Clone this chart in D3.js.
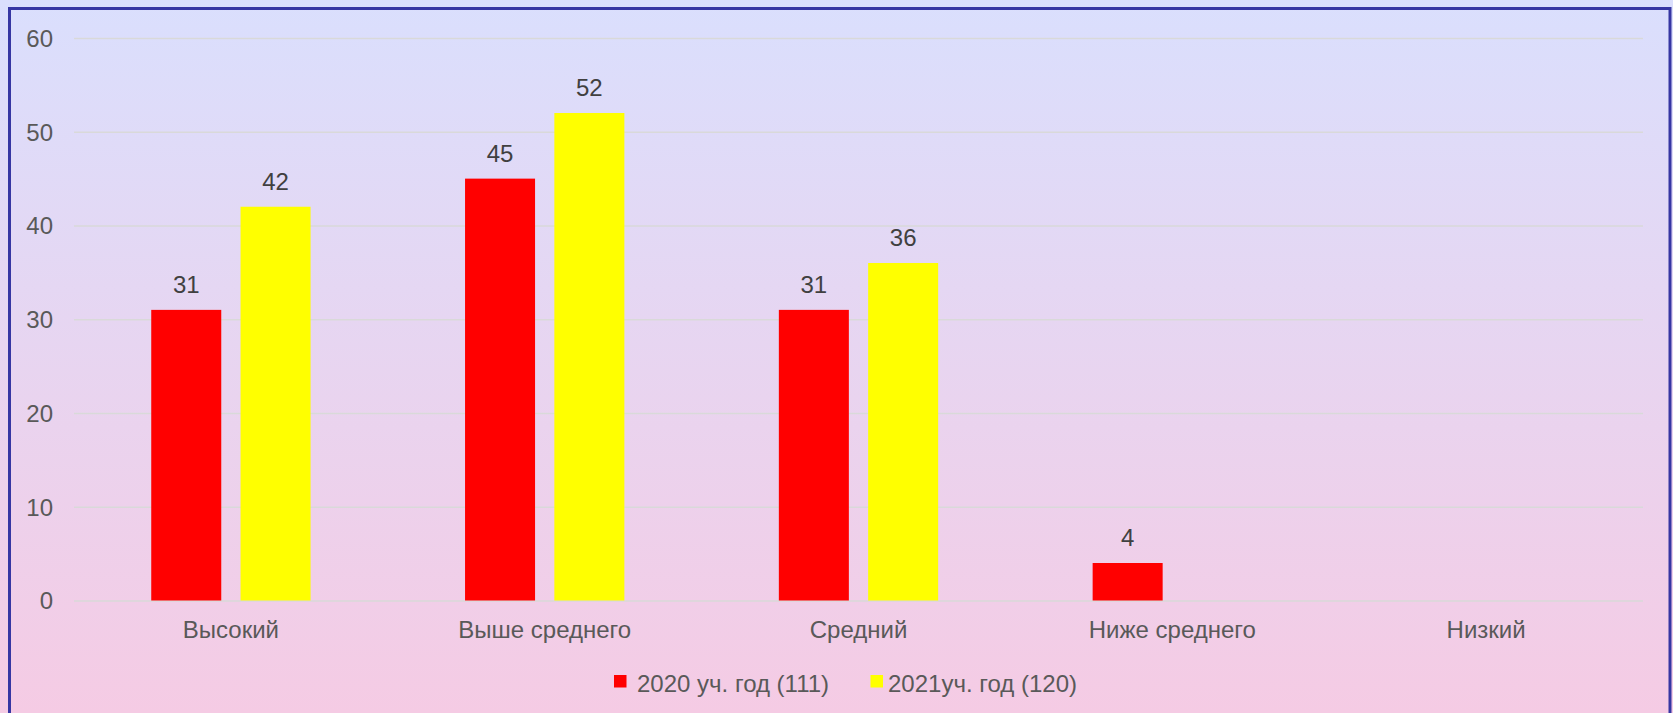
<!DOCTYPE html>
<html>
<head>
<meta charset="utf-8">
<script src="https://cdn.jsdelivr.net/npm/d3@7"></script>
<style>
html, body { margin: 0; padding: 0; overflow: hidden; }
body { width: 1673px; height: 713px; }
svg { display: block; }
</style>
</head>
<body>
<svg id="chart" width="1673" height="713"></svg>
<script>
const categories = ["Высокий", "Выше среднего", "Средний", "Ниже среднего", "Низкий"];
const seriesNames = ["2020 уч. год (111)", "2021уч. год (120)"];
const values2020 = [31, 45, 31, 4, null];
const values2021 = [42, 52, 36, null, null];
const yTicks = [0, 10, 20, 30, 40, 50, 60];
const seriesColors = ["#FF0000", "#FFFF00"];

const W = 1673, H = 713;
const svg = d3.select("#chart");
const font = "'Liberation Sans', Arial, sans-serif";

// background gradient
const defs = svg.append("defs");
const grad = defs.append("linearGradient").attr("id", "bg").attr("x1", 0).attr("y1", 0).attr("x2", 0).attr("y2", 1);
grad.append("stop").attr("offset", "0%").attr("stop-color", "#dadffd");
grad.append("stop").attr("offset", "100%").attr("stop-color", "#f5cbe4");
svg.append("rect").attr("x", 0).attr("y", 0).attr("width", W).attr("height", H).attr("fill", "url(#bg)");

// frame
svg.append("rect").attr("x", 9.5).attr("y", 8.5).attr("width", 1660.5).attr("height", 720)
  .attr("fill", "none").attr("stroke", "#3636a3").attr("stroke-width", 3);

const x0 = d3.scaleBand().domain(categories).range([74, 1643]).padding(0);
const groupFrac = 0.5077;
const x1 = d3.scaleBand().domain(seriesNames).range([0, x0.bandwidth() * groupFrac]).paddingInner(0.216).paddingOuter(0);
const groupOffset = (x0.bandwidth() - x0.bandwidth() * groupFrac) / 2;
const y = d3.scaleLinear().domain([0, 60]).range([600.5, 38]);

// gridlines
const gridAxis = d3.axisLeft(y).tickValues(yTicks).tickSize(-(1643 - 74)).tickFormat("");
const g = svg.append("g").attr("transform", "translate(74,0)").call(gridAxis);
g.select(".domain").remove();
g.selectAll(".tick line").attr("stroke", "#d9d9d9").attr("stroke-width", 1.5);

// y tick labels
const yAxis = d3.axisLeft(y).tickValues(yTicks).tickSize(0).tickPadding(0);
const ya = svg.append("g").attr("transform", "translate(53,0)").call(yAxis);
ya.select(".domain").remove();
ya.selectAll("text").attr("font-family", font).attr("font-size", 24).attr("fill", "#595959").attr("dy", "0.35em");

// bars
const series = [values2020, values2021];
series.forEach((vals, si) => {
  const data = categories.map((c, i) => ({ c, v: vals[i] })).filter(d => d.v !== null);
  svg.append("g").selectAll("rect").data(data).join("rect")
    .attr("x", d => x0(d.c) + groupOffset + x1(seriesNames[si]))
    .attr("y", d => y(d.v))
    .attr("width", x1.bandwidth())
    .attr("height", d => y(0) - y(d.v))
    .attr("fill", seriesColors[si]);
  svg.append("g").selectAll("text").data(data).join("text")
    .attr("x", d => x0(d.c) + groupOffset + x1(seriesNames[si]) + x1.bandwidth() / 2)
    .attr("y", d => y(d.v) - 17)
    .attr("text-anchor", "middle")
    .attr("font-family", font).attr("font-size", 24).attr("fill", "#404040")
    .text(d => d.v);
});

// x axis labels
const xAxis = d3.axisBottom(x0).tickSize(0).tickPadding(0);
const xa = svg.append("g").attr("transform", "translate(0,621)").call(xAxis);
xa.select(".domain").remove();
xa.selectAll("text").attr("font-family", font).attr("font-size", 24).attr("fill", "#595959").attr("dy", "0.71em");

// legend
const legendX = [614, 870.5];
const legendTextX = [637, 888];
const legend = svg.append("g");
seriesNames.forEach((name, i) => {
  legend.append("rect").attr("x", legendX[i]).attr("y", 675).attr("width", 12.5).attr("height", 12.5).attr("fill", seriesColors[i]);
  legend.append("text").attr("x", legendTextX[i]).attr("y", 691.5)
    .attr("font-family", font).attr("font-size", 24).attr("fill", "#595959").text(name);
});
</script>
</body>
</html>
